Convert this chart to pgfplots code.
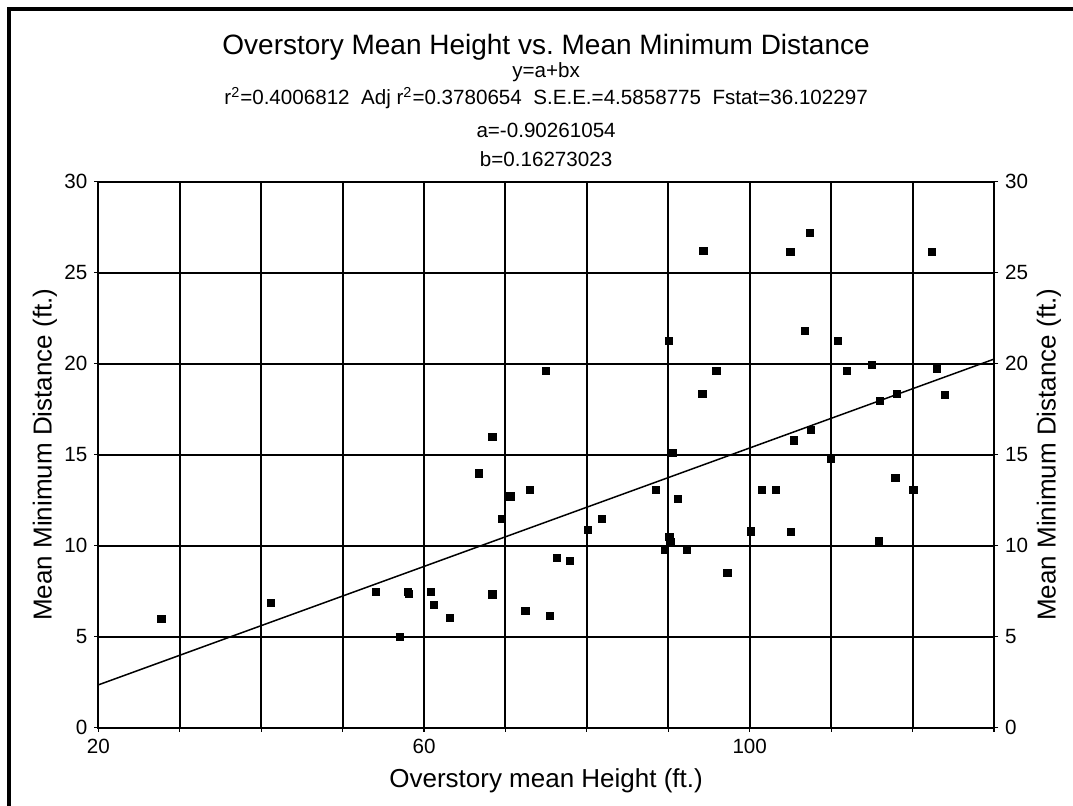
\documentclass[border=0pt]{standalone}
\usepackage{pgfplots}
\pgfplotsset{compat=1.18}
\usepackage{fontspec}
\setmainfont{Liberation Sans}
\pgfplotstableread{
x y
27.75 6.00
41.2 6.86
54.06 7.47
58.0 7.47
58.15 7.34
60.86 7.47
61.2 6.73
63.16 6.03
57.0 5.00
66.7 13.97
68.4 15.96
68.4 7.32
69.6 11.49
70.6 12.71
73.0 13.08
72.46 6.42
75.0 19.61
75.5 6.16
76.35 9.35
77.9 9.17
80.1 10.85
81.8 11.49
88.5 13.08
90.1 21.27
90.55 15.11
91.2 12.56
90.14 10.48
90.26 10.20
89.6 9.78
92.3 9.78
94.2 18.32
94.3 26.22
95.9 19.61
97.26 8.52
100.1 10.79
101.5 13.08
103.2 13.08
105.0 26.16
105.1 10.77
105.4 15.79
106.75 21.81
107.4 27.20
107.5 16.37
110.0 14.76
110.8 21.25
111.9 19.61
115.0 19.93
116.0 17.95
115.9 10.24
117.9 13.73
118.1 18.34
120.1 13.06
122.4 26.14
123.0 19.72
124.0 18.27
}\pts
\begin{document}
\begin{tikzpicture}
\path[use as bounding box] (-49.15pt,-38.65pt) rectangle (487.35pt,363.85pt);
\pgfplotsset{chartstyle/.style={
  at={(0pt,0pt)}, anchor=south west,
  scale only axis, width=447.85pt, height=273pt,
  xmin=20, xmax=130, ymin=0, ymax=30,
  xtick={20,30,...,130}, ytick={0,5,...,30},
  yticklabels={0,5,10,15,20,25,30},
  tick align=outside, major tick length=2pt,
  axis line style={line width=1.1pt},
  tick style={line width=0.6pt, black},
  ticklabel style={font=\fontsize{10.3}{12}\selectfont},
}}
\begin{axis}[chartstyle,
  xticklabels={20,,,,60,,,,100,,,},
  grid=major, grid style={line width=1pt, black},
  ytick pos=both, xtick pos=bottom, yticklabel pos=left]
\addplot[black, line width=0.75pt, no marks] coordinates {(20,2.352) (130,20.252)};
\addplot[only marks, mark=square*, mark size=1.8pt, black] table[x=x,y=y] {\pts};
\end{axis}
\begin{axis}[chartstyle, xticklabels={}, xtick pos=bottom,
  ytick pos=right, yticklabel pos=right]
\end{axis}
\draw[line width=2pt] (-44.4pt,-60pt) -- (-44.4pt,359.35pt) -- (520pt,359.35pt);
\node[anchor=base, font=\fontsize{14}{16}\selectfont] at (223.9pt,336.35pt) {Overstory Mean Height vs.\ Mean Minimum Distance};
\node[anchor=base, font=\fontsize{10.3}{12}\selectfont] at (223.9pt,325.1pt) {y=a+bx};
\node[anchor=base, font=\fontsize{10.3}{12}\selectfont] at (223.9pt,311.35pt) {r\textsuperscript{2}=0.4006812\ \ Adj r\textsuperscript{2}=0.3780654\ \ S.E.E.=4.5858775\ \ Fstat=36.102297};
\node[anchor=base, font=\fontsize{10.3}{12}\selectfont] at (223.9pt,295.1pt) {a=-0.90261054};
\node[anchor=base, font=\fontsize{10.3}{12}\selectfont] at (223.9pt,280.85pt) {b=0.16273023};
\node[anchor=base, font=\fontsize{13}{15}\selectfont] at (223.9pt,-29.65pt) {Overstory mean Height (ft.)};
\node[rotate=90, font=\fontsize{13}{15}\selectfont] at (-26.65pt,136.5pt) {Mean Minimum Distance (ft.)};
\node[rotate=90, font=\fontsize{13}{15}\selectfont] at (475.35pt,136.5pt) {Mean Minimum Distance (ft.)};
\end{tikzpicture}
\end{document}
